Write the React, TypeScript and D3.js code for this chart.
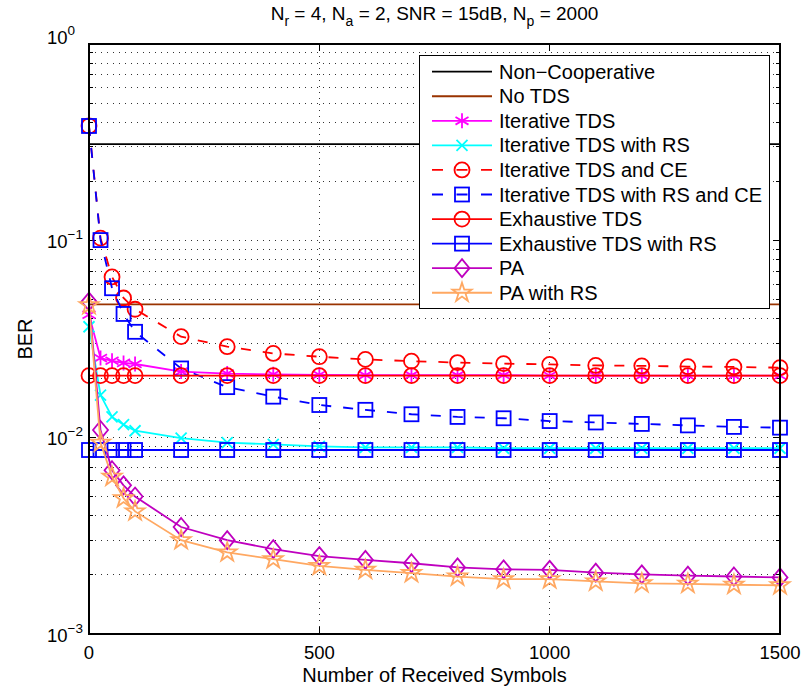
import React from 'react';
import * as d3 from 'd3';

// received symbols
const symbols = [0, 25, 50, 75, 100, 200, 300, 400, 500, 600, 700, 800, 900, 1000, 1100, 1200, 1300, 1400, 1500];

const nonCoopX = [0, 1500];
const nonCoopBER = [0.31, 0.31];
const noTdsX = [0, 1500];
const noTdsBER = [0.0474, 0.0474];

const iterTDS = [0.042, 0.0253, 0.0245, 0.0239, 0.0236, 0.0216, 0.0211, 0.0209, 0.0208, 0.0207, 0.0207, 0.0207, 0.0207, 0.0206, 0.0206, 0.0206, 0.0206, 0.0206, 0.0206];
const iterRS = [0.0365, 0.0164, 0.0127, 0.0116, 0.0108, 0.0099, 0.0094, 0.0092, 0.009, 0.0089, 0.0089, 0.0089, 0.0088, 0.0088, 0.0088, 0.0088, 0.0088, 0.0088, 0.0088];
const iterCE = [0.383, 0.103, 0.0654, 0.0511, 0.0448, 0.0325, 0.0289, 0.0267, 0.0257, 0.0249, 0.0244, 0.024, 0.0237, 0.0235, 0.0232, 0.0231, 0.0229, 0.0228, 0.0226];
const iterRSCE = [0.383, 0.1007, 0.0573, 0.0424, 0.0344, 0.0224, 0.018, 0.0161, 0.0146, 0.0138, 0.0131, 0.0127, 0.0125, 0.0121, 0.0119, 0.0117, 0.0115, 0.0113, 0.0112];
const exhTDS = [0.0206, 0.0206, 0.0206, 0.0206, 0.0206, 0.0206, 0.0206, 0.0206, 0.0206, 0.0206, 0.0206, 0.0206, 0.0206, 0.0206, 0.0206, 0.0206, 0.0206, 0.0206, 0.0206];
const exhRS = [0.00862, 0.00862, 0.00862, 0.00862, 0.00862, 0.00862, 0.00862, 0.00862, 0.00862, 0.00862, 0.00862, 0.00862, 0.00862, 0.00862, 0.00862, 0.00862, 0.00862, 0.00862, 0.00862];
const pa = [0.049, 0.0109, 0.0068, 0.0057, 0.005, 0.0035, 0.003, 0.0027, 0.00249, 0.00238, 0.00229, 0.00218, 0.00213, 0.00212, 0.00205, 0.00201, 0.00198, 0.00196, 0.00194];
const paRS = [0.047, 0.0094, 0.0063, 0.0049, 0.0042, 0.003, 0.0026, 0.0024, 0.00222, 0.00212, 0.00204, 0.00196, 0.0019, 0.0019, 0.00185, 0.00181, 0.0018, 0.00178, 0.00177];

const xTicks = [0, 500, 1000, 1500];
const yDecades = [1e-3, 1e-2, 1e-1, 1];
const yExponents = ['\u22123', '\u22122', '\u22121', '0'];

type Marker = 'none' | 'asterisk' | 'x' | 'circle' | 'square' | 'diamond' | 'star';

const series: { name: string; x: number[]; y: number[]; color: string; dash: boolean; marker: Marker }[] = [
  { name: 'Non\u2212Cooperative', x: nonCoopX, y: nonCoopBER, color: '#000000', dash: false, marker: 'none' },
  { name: 'No TDS', x: noTdsX, y: noTdsBER, color: '#993300', dash: false, marker: 'none' },
  { name: 'Iterative TDS', x: symbols, y: iterTDS, color: '#ff00ff', dash: false, marker: 'asterisk' },
  { name: 'Iterative TDS with RS', x: symbols, y: iterRS, color: '#00ffff', dash: false, marker: 'x' },
  { name: 'Iterative TDS and CE', x: symbols, y: iterCE, color: '#ff0000', dash: true, marker: 'circle' },
  { name: 'Iterative TDS with RS and CE', x: symbols, y: iterRSCE, color: '#0000ff', dash: true, marker: 'square' },
  { name: 'Exhaustive TDS', x: symbols, y: exhTDS, color: '#ff0000', dash: false, marker: 'circle' },
  { name: 'Exhaustive TDS with RS', x: symbols, y: exhRS, color: '#0000ff', dash: false, marker: 'square' },
  { name: 'PA', x: symbols, y: pa, color: '#bf00bf', dash: false, marker: 'diamond' },
  { name: 'PA with RS', x: symbols, y: paRS, color: '#ffa862', dash: false, marker: 'star' },
];

const W = 802;
const H = 689;
const left = 89, right = 780, top = 44, bottom = 634;
const font = '"Liberation Sans", Arial, Helvetica, sans-serif';

function starPath(R: number) {
  const pts: string[] = [];
  for (let i = 0; i < 10; i++) {
    const a = (-90 + i * 36) * Math.PI / 180;
    const r = i % 2 === 0 ? R : R * 0.382;
    pts.push(`${(r * Math.cos(a)).toFixed(2)},${(r * Math.sin(a)).toFixed(2)}`);
  }
  return 'M' + pts.join('L') + 'Z';
}

function MarkerShape({ type, cx, cy, color }: { type: Marker; cx: number; cy: number; color: string }) {
  const common = { fill: 'none', stroke: color, strokeWidth: 1.8 };
  const t = `translate(${cx},${cy})`;
  switch (type) {
    case 'circle':
      return <circle cx={cx} cy={cy} r={7.5} {...common} />;
    case 'square':
      return <rect x={cx - 7} y={cy - 7} width={14} height={14} {...common} />;
    case 'diamond':
      return <path transform={t} d="M0,-9L7.5,0L0,9L-7.5,0Z" {...common} />;
    case 'star':
      return <path transform={t} d={starPath(10)} {...common} />;
    case 'x':
      return <path transform={t} d="M-5.5,-5.5L5.5,5.5M-5.5,5.5L5.5,-5.5" {...common} />;
    case 'asterisk':
      return <path transform={t} d="M0,-7.5L0,7.5M-6.5,-3.8L6.5,3.8M-6.5,3.8L6.5,-3.8" {...common} />;
    default:
      return null;
  }
}

const App = () => {
  const xScale = d3.scaleLinear().domain([0, 1500]).range([left, right]);
  const yScale = d3.scaleLog().domain([1e-3, 1]).range([bottom, top]);

  const minorY: number[] = [];
  for (let k = -3; k < 0; k++) {
    for (let m = 2; m <= 9; m++) minorY.push(m * Math.pow(10, k));
  }

  const line = d3.line<[number, number]>()
    .x((d) => xScale(d[0]))
    .y((d) => yScale(d[1]));

  const legX = 419, legY = 55, legW = 350, legH = 253;
  const rowY0 = 71.7, rowStep = 24.56;

  return (
    <svg width={W} height={H} style={{ position: 'absolute', left: 0, top: 0, background: '#fff' }} fontFamily={font}>
      <rect x={0} y={0} width={W} height={H} fill="#fff" />

      {/* grid */}
      <g stroke="#333" strokeWidth={1} strokeDasharray="1,5" shapeRendering="crispEdges">
        {xTicks.slice(1, -1).map((t) => (
          <line key={'gx' + t} x1={xScale(t)} x2={xScale(t)} y1={top} y2={bottom} />
        ))}
        {minorY.concat([1e-2, 1e-1]).map((v) => (
          <line key={'gy' + v} x1={left} x2={right} y1={yScale(v)} y2={yScale(v)} />
        ))}
      </g>

      {/* ticks */}
      <g stroke="#000" strokeWidth={1} shapeRendering="crispEdges">
        {xTicks.map((t) => (
          <g key={'tx' + t}>
            <line x1={xScale(t)} x2={xScale(t)} y1={bottom} y2={bottom - 7} />
            <line x1={xScale(t)} x2={xScale(t)} y1={top} y2={top + 7} />
          </g>
        ))}
        {yDecades.map((v) => (
          <g key={'ty' + v}>
            <line x1={left} x2={left + 7} y1={yScale(v)} y2={yScale(v)} />
            <line x1={right} x2={right - 7} y1={yScale(v)} y2={yScale(v)} />
          </g>
        ))}
        {minorY.map((v) => (
          <g key={'tm' + v}>
            <line x1={left} x2={left + 4} y1={yScale(v)} y2={yScale(v)} />
            <line x1={right} x2={right - 4} y1={yScale(v)} y2={yScale(v)} />
          </g>
        ))}
      </g>

      {/* series */}
      {series.map((s) => {
        const pts = s.x.map((x, i) => [x, s.y[i]] as [number, number]);
        return (
          <g key={s.name}>
            <path d={line(pts) || ''} fill="none" stroke={s.color} strokeWidth={1.8}
              strokeDasharray={s.dash ? '10,12' : undefined} />
            {s.marker !== 'none' && pts.map((p, i) => (
              <MarkerShape key={i} type={s.marker} cx={xScale(p[0])} cy={yScale(p[1])} color={s.color} />
            ))}
          </g>
        );
      })}

      {/* box */}
      <rect x={left} y={top} width={right - left} height={bottom - top} fill="none" stroke="#000" strokeWidth={1.2} shapeRendering="crispEdges" />

      {/* tick labels */}
      <g fontSize={18.5} fill="#000">
        {xTicks.map((t) => (
          <text key={'lx' + t} x={xScale(t)} y={659} textAnchor="middle">{t}</text>
        ))}
        {yDecades.map((v, i) => (
          <text key={'ly' + v} x={47} y={v === 1 ? yScale(v) - 0.5 : yScale(v) + 7.7}>
            10<tspan dy={-9} fontSize={13.5}>{yExponents[i]}</tspan>
          </text>
        ))}
      </g>

      {/* title */}
      <text x={(left + right) / 2} y={20} textAnchor="middle" fontSize={19}>
        N<tspan dy={6} fontSize={14}>r</tspan><tspan dy={-6}> = 4, N</tspan>
        <tspan dy={6} fontSize={14}>a</tspan><tspan dy={-6}> = 2, SNR = 15dB, N</tspan>
        <tspan dy={6} fontSize={14}>p</tspan><tspan dy={-6}> = 2000</tspan>
      </text>

      {/* axis labels */}
      <text x={(left + right) / 2} y={682} textAnchor="middle" fontSize={20}>Number of Received Symbols</text>
      <text transform={`translate(32,${(top + bottom) / 2}) rotate(-90)`} textAnchor="middle" fontSize={20}>BER</text>

      {/* legend */}
      <rect x={legX} y={legY} width={legW} height={legH} fill="#fff" stroke="#000" strokeWidth={1} shapeRendering="crispEdges" />
      {series.map((s, i) => {
        const cy = rowY0 + i * rowStep;
        return (
          <g key={'leg' + s.name}>
            <line x1={432} x2={492} y1={cy} y2={cy} stroke={s.color} strokeWidth={1.8}
              strokeDasharray={s.dash ? '11,13.5' : undefined} />
            {s.marker !== 'none' && <MarkerShape type={s.marker} cx={462} cy={cy} color={s.color} />}
            <text x={499} y={cy + 7} fontSize={20}>{s.name}</text>
          </g>
        );
      })}
    </svg>
  );
};

export default App;
